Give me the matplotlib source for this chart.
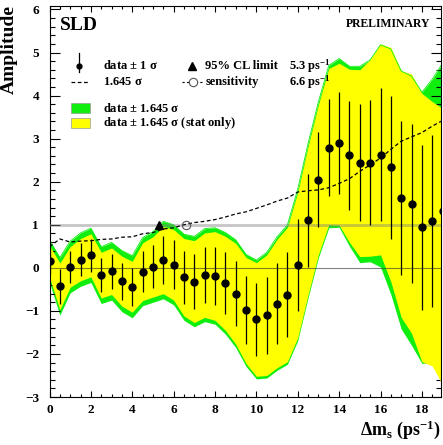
import numpy as np
import matplotlib
matplotlib.use("Agg")
import matplotlib.pyplot as plt
from matplotlib.ticker import MultipleLocator
from matplotlib.patches import Rectangle

plt.rcParams['font.family'] = ['Liberation Serif', 'DejaVu Serif']
plt.rcParams['font.weight'] = 'bold'
plt.rcParams['mathtext.fontset'] = 'custom'
plt.rcParams['mathtext.rm'] = 'Liberation Serif:bold'
plt.rcParams['mathtext.it'] = 'Liberation Serif:bold'
plt.rcParams['mathtext.bf'] = 'Liberation Serif:bold'

# amplitude scan values
dm = [0.0, 0.5, 1.0, 1.5, 2.0, 2.5, 3.0, 3.5, 4.0, 4.5, 5.0, 5.5, 6.0, 6.5,
      7.0, 7.5, 8.0, 8.5, 9.0, 9.5, 10.0, 10.5, 11.0, 11.5, 12.0, 12.5, 13.0,
      13.5, 14.0, 14.5, 15.0, 15.5, 16.0, 16.5, 17.0, 17.5, 18.0, 18.5, 19.0]
amp = [0.15, -0.43, 0.02, 0.19, 0.29, -0.17, -0.08, -0.31, -0.44, -0.09, 0.02,
       0.18, 0.07, -0.22, -0.32, -0.17, -0.19, -0.36, -0.60, -0.99, -1.20, -1.10,
       -0.83, -0.62, 0.07, 1.10, 2.05, 2.79, 2.90, 2.61, 2.44, 2.44, 2.63, 2.33,
       1.63, 1.49, 0.94, 1.09, 1.33]
err = [0.30, 0.41, 0.365, 0.375, 0.385, 0.40, 0.41, 0.43, 0.44, 0.48, 0.50,
       0.55, 0.565, 0.61, 0.64, 0.655, 0.68, 0.72, 0.76, 0.79, 0.84, 0.89, 0.94,
       0.985, 1.07, 1.09, 1.10, 1.13, 1.19, 1.26, 1.36, 1.45, 1.55, 1.67, 1.79,
       1.85, 1.91, 2.00, 2.08]
# dashed line: 1.645 sigma
sens = [0.49, 0.67, 0.60, 0.62, 0.63, 0.66, 0.67, 0.71, 0.72, 0.79, 0.82, 0.90,
        0.93, 1.00, 1.05, 1.08, 1.12, 1.18, 1.25, 1.30, 1.38, 1.46, 1.55, 1.62,
        1.76, 1.79, 1.81, 1.86, 1.96, 2.07, 2.24, 2.39, 2.55, 2.75, 2.94, 3.04,
        3.14, 3.29, 3.42]
# green band: data +- 1.645 sigma
green_hi = [0.64, 0.24, 0.62, 0.81, 0.92, 0.49, 0.59, 0.40, 0.28, 0.70, 0.84,
            1.08, 1.00, 0.78, 0.73, 0.91, 0.93, 0.82, 0.65, 0.31, 0.18, 0.36,
            0.72, 1.00, 1.83, 2.89, 3.86, 4.70, 4.86, 4.68, 4.68, 4.83, 5.18,
            5.08, 4.57, 4.45, 4.08, 4.38, 4.75]
green_lo = [-0.34, -1.10, -0.58, -0.43, -0.34, -0.83, -0.75, -1.02, -1.16,
            -0.88, -0.80, -0.72, -0.86, -1.22, -1.37, -1.25, -1.31, -1.54, -1.85,
            -2.29, -2.58, -2.56, -2.38, -2.24, -1.69, -0.69, 0.24, 0.93, 0.94,
            0.50, 0.12, 0.14, 0.02, -0.62, -1.42, -1.80, -2.22, -2.20, -2.05]
# yellow band: data +- 1.645 sigma (stat only)
yel_hi = [0.52, 0.11, 0.49, 0.68, 0.79, 0.36, 0.46, 0.27, 0.15, 0.58, 0.72,
          0.96, 0.89, 0.68, 0.63, 0.81, 0.84, 0.73, 0.57, 0.24, 0.12, 0.30,
          0.66, 0.94, 1.76, 2.82, 3.79, 4.63, 4.75, 4.61, 4.60, 4.84, 5.20,
          5.12, 4.58, 4.50, 4.05, 3.86, 3.70]
yel_lo = [-0.22, -0.97, -0.45, -0.30, -0.21, -0.70, -0.62, -0.89, -1.03, -0.76,
          -0.68, -0.60, -0.75, -1.12, -1.27, -1.15, -1.22, -1.45, -1.77, -2.22,
          -2.52, -2.50, -2.32, -2.18, -1.62, -0.62, 0.31, 1.00, 0.99, 0.59,
          0.26, 0.27, 0.30, -0.32, -1.15, -1.52, -2.18, -2.28, -2.72]

limit_95 = 5.3
sensitivity = 6.6

GREEN = '#10ee10'
YELLOW = '#ffff00'

fig = plt.figure(figsize=(4.43, 4.45), dpi=100)
ax = fig.add_axes([49.5 / 443, 48 / 445, 391 / 443, 391 / 445])

ax.fill_between(dm, green_lo, green_hi, color=GREEN, lw=0, zorder=1)
ax.fill_between(dm, yel_lo, yel_hi, color=YELLOW, lw=0, zorder=2)
ax.plot(dm, green_hi, color=GREEN, lw=0.6, zorder=2.5)

ax.axhline(1.0, color='#808080', lw=2.0, alpha=0.45, zorder=3)
ax.axhline(0.0, color='#303030', lw=0.8, alpha=0.6, zorder=3)

ax.plot(dm, sens, color='black', lw=0.9, ls=(0, (3, 2)), zorder=4)
ax.errorbar(dm, amp, yerr=err, fmt='o', color='black', ms=5, elinewidth=0.9,
            capsize=0, zorder=5)
ax.plot([limit_95], [1.0], marker='^', color='black', ms=6, ls='none', zorder=6)
ax.plot([sensitivity], [1.0], marker='o', mfc='none', mec='#555555', ms=6,
        mew=0.8, ls='none', zorder=6)

ax.set_xlim(0, 18.9)
ax.set_ylim(-3, 6.08)
ax.xaxis.set_major_locator(MultipleLocator(2))
ax.xaxis.set_minor_locator(MultipleLocator(0.5))
ax.yaxis.set_major_locator(MultipleLocator(1))
ax.yaxis.set_minor_locator(MultipleLocator(0.2))
ax.tick_params(which='both', direction='in', top=True, right=True,
               width=0.8, labelsize=9.5)
ax.tick_params(axis='x', which='major', length=4.5, pad=5)
ax.tick_params(axis='x', which='minor', length=2.5)
ax.tick_params(axis='y', which='major', length=7, pad=7.5)
ax.tick_params(axis='y', which='minor', length=3.6)
for lab in ax.get_xticklabels() + ax.get_yticklabels():
    lab.set_fontweight('bold')
for sp in ax.spines.values():
    sp.set_linewidth(0.8)

fig.text(9 / 443, 1 - 5 / 445, 'Amplitude', rotation=90, ha='center',
         va='top', fontsize=14, fontweight='bold')
fig.text(441 / 443, 1 - 435 / 445, r'$\Delta$m$_s$ (ps$^{-1}$)', ha='right',
         va='baseline', fontsize=13, fontweight='bold')

T = ax.transAxes
ax.text(0.027, 0.939, 'SLD', transform=T, fontsize=14, fontweight='bold',
        va='baseline')
ax.text(0.973, 0.946, 'PRELIMINARY', transform=T, fontsize=8.5,
        fontweight='bold', ha='right', va='baseline')

# legend
fs = 9
tx = 0.137
r1, r2, r3, r4 = 0.847, 0.806, 0.739, 0.701
ax.plot([0.0767, 0.0767], [0.831, 0.880], color='black', lw=0.9,
        transform=T, clip_on=False, zorder=7)
ax.plot([0.0767], [r1], 'o', color='black', ms=3.5, transform=T, zorder=7)
ax.text(tx, r1, r'data $\pm$ 1 $\sigma$', transform=T, fontsize=fs,
        va='center')
ax.plot([0.054, 0.101], [r2, r2], color='black', lw=0.9, ls=(0, (3, 2)),
        transform=T, zorder=7)
ax.text(tx, r2, r'1.645 $\sigma$', transform=T, fontsize=fs, va='center')

ax.plot([0.364], [r1], '^', color='black', ms=6, transform=T, zorder=7)
ax.text(0.398, r1, '95% CL limit', transform=T, fontsize=fs, va='center')
ax.text(0.613, r1, '%.1f ps$^{-1}$' % limit_95, transform=T, fontsize=fs,
        va='center')
ax.plot([0.340, 0.392], [r2, r2], color='black', lw=0.8, ls=(0, (2, 2)),
        transform=T, zorder=7)
ax.plot([0.367], [r2], 'o', mfc='white', mec='#555555', ms=6, mew=0.8,
        transform=T, zorder=8)
ax.text(0.400, r2, 'sensitivity', transform=T, fontsize=fs, va='center')
ax.text(0.613, r2, '%.1f ps$^{-1}$' % sensitivity, transform=T, fontsize=fs,
        va='center')

ax.add_patch(Rectangle((0.054, r3 - 0.0128), 0.0486, 0.0256, transform=T,
                       facecolor=GREEN, edgecolor='#999999', lw=0.5, zorder=7))
ax.text(tx, r3, r'data $\pm$ 1.645 $\sigma$', transform=T, fontsize=fs,
        va='center')
ax.add_patch(Rectangle((0.054, r4 - 0.0128), 0.0486, 0.0256, transform=T,
                       facecolor=YELLOW, edgecolor='#999999', lw=0.5, zorder=7))
ax.text(tx, r4, r'data $\pm$ 1.645 $\sigma$ (stat only)', transform=T,
        fontsize=fs, va='center')

fig.savefig('out.png', dpi=100)
